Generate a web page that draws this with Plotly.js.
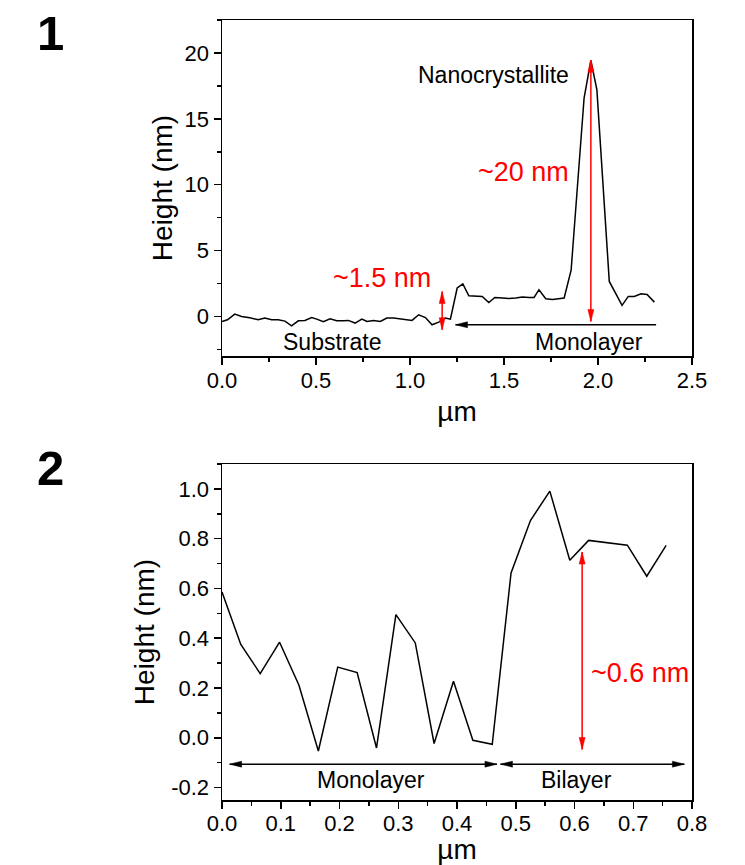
<!DOCTYPE html>
<html>
<head>
<meta charset="utf-8">
<script src="https://cdn.plot.ly/plotly-3.0.1.min.js"></script>
<style>
  html, body { margin: 0; padding: 0; background: #fff; }
  #chart { width: 745px; height: 865px; }
</style>
</head>
<body>
<div id="chart"></div>
<script>
// Panel 1: AFM height profile across substrate, monolayer and a nanocrystallite
const dist1 = [0.000, 0.029, 0.068, 0.104, 0.148, 0.192, 0.228, 0.264, 0.299, 0.335,
               0.370, 0.406, 0.441, 0.477, 0.504, 0.539, 0.575, 0.610, 0.646, 0.672,
               0.708, 0.744, 0.771, 0.806, 0.842, 0.877, 0.913, 0.948, 0.975, 1.011,
               1.046, 1.082, 1.117, 1.153, 1.188, 1.215, 1.251, 1.281, 1.313, 1.349,
               1.384, 1.419, 1.451, 1.491, 1.526, 1.562, 1.598, 1.633, 1.660, 1.686,
               1.722, 1.758, 1.793, 1.820, 1.857, 1.926, 1.962, 1.994, 2.060, 2.128,
               2.161, 2.193, 2.229, 2.261, 2.300];
const height1 = [-0.38, -0.25, 0.18, 0.00, -0.10, -0.25, -0.12, -0.25, -0.25, -0.35,
                 -0.71, -0.33, -0.30, -0.08, -0.20, -0.40, -0.17, -0.33, -0.33, -0.30,
                 -0.50, -0.20, -0.38, -0.30, -0.38, -0.12, -0.12, -0.17, -0.25, -0.30,
                 0.13, -0.08, -0.63, -0.43, -0.12, -0.20, 2.16, 2.48, 1.57, 1.52,
                 1.52, 1.06, 1.44, 1.40, 1.37, 1.40, 1.47, 1.44, 1.44, 2.03,
                 1.34, 1.29, 1.34, 1.40, 3.51, 16.58, 19.44, 17.21, 2.66, 0.84,
                 1.52, 1.52, 1.72, 1.67, 1.09];

// Panel 2: height profile across the monolayer / bilayer step
const dist2 = [0.000, 0.032, 0.065, 0.098, 0.131, 0.164, 0.197, 0.230, 0.263, 0.296,
               0.329, 0.361, 0.394, 0.427, 0.460, 0.492, 0.525, 0.558, 0.592, 0.624,
               0.690, 0.723, 0.756];
const height2 = [0.586, 0.375, 0.258, 0.384, 0.211, -0.053, 0.284, 0.262, -0.041, 0.495,
                 0.381, -0.023, 0.227, -0.010, -0.026, 0.662, 0.873, 0.991, 0.713, 0.793,
                 0.774, 0.649, 0.773];

// Tick values and labels
const xTicks1 = [0, 0.5, 1.0, 1.5, 2.0, 2.5];
const xTickText1 = ['0.0', '0.5', '1.0', '1.5', '2.0', '2.5'];
const yTicks1 = [0, 5, 10, 15, 20];
const yTickText1 = ['0', '5', '10', '15', '20'];
const xTicks2 = [0, 0.1, 0.2, 0.3, 0.4, 0.5, 0.6, 0.7, 0.8];
const xTickText2 = ['0.0', '0.1', '0.2', '0.3', '0.4', '0.5', '0.6', '0.7', '0.8'];
const yTicks2 = [-0.2, 0, 0.2, 0.4, 0.6, 0.8, 1.0];
const yTickText2 = ['-0.2', '0.0', '0.2', '0.4', '0.6', '0.8', '1.0'];

// Annotation anchors (data units)
const peakIdx = height1.indexOf(Math.max(...height1));
const peakX = dist1[peakIdx];
const peakY = height1[peakIdx];
const peakBase = -0.38;
const stepX1 = 1.171, stepLow1 = -1.01, stepHigh1 = 1.90;
const monoArrowY = -0.63, monoArrowFrom = 2.309, monoArrowTo = 1.242;
const stepX2 = 0.613, stepLow2 = -0.047, stepHigh2 = 0.746;
const spanY2 = -0.106;
const monoSpan2 = [0.013, 0.468];
const biSpan2 = [0.474, 0.787];

const FONT = 'Liberation Sans, Arial, Helvetica, sans-serif';
const RED = '#ff0000';
const INK = '#000000';

const xDom = [222 / 745, 692 / 745];
const yDom1 = [1 - 356 / 865, 1 - 20 / 865];
const yDom2 = [1 - 800 / 865, 1 - 464 / 865];

function mainAxis(opts) {
  return Object.assign({
    showline: true, linecolor: INK, linewidth: 1.5, mirror: true,
    showgrid: false, zeroline: false,
    ticks: 'outside', ticklen: 7, tickwidth: 1.5, tickcolor: INK,
    tickmode: 'array',
    tickfont: { family: FONT, size: 22, color: INK },
  }, opts);
}
function mirrorAxis(opts) {
  return Object.assign({
    showline: false, showgrid: false, zeroline: false, showticklabels: false,
    ticks: 'outside', ticklen: 3, tickwidth: 1.2, tickcolor: INK,
    tickmode: 'linear', tick0: 0,
  }, opts);
}
function minor(dt) {
  return { tickmode: 'linear', tick0: 0, dtick: dt, ticks: 'outside', ticklen: 4,
           tickwidth: 1.5, tickcolor: INK, showgrid: false };
}

const traces = [
  { x: dist1, y: height1, xaxis: 'x', yaxis: 'y', mode: 'lines',
    line: { color: INK, width: 1.5 }, hoverinfo: 'skip' },
  { x: dist2, y: height2, xaxis: 'x2', yaxis: 'y2', mode: 'lines',
    line: { color: INK, width: 1.5 }, hoverinfo: 'skip' },
];

// Slender arrowheads: pixel-sized paths anchored at the arrow tip
const HEAD_LEN = 12, HEAD_HALF = 3;
const headPaths = {
  up:    `M0,0 L${-HEAD_HALF},${-HEAD_LEN} L${HEAD_HALF},${-HEAD_LEN} Z`,
  down:  `M0,0 L${-HEAD_HALF},${HEAD_LEN} L${HEAD_HALF},${HEAD_LEN} Z`,
  left:  `M0,0 L${HEAD_LEN},${-HEAD_HALF} L${HEAD_LEN},${HEAD_HALF} Z`,
  right: `M0,0 L${-HEAD_LEN},${-HEAD_HALF} L${-HEAD_LEN},${HEAD_HALF} Z`,
};
function head(xr, yr, x, y, dir, color) {
  return { type: 'path', xref: xr, yref: yr, xsizemode: 'pixel', ysizemode: 'pixel',
           xanchor: x, yanchor: y, path: headPaths[dir],
           fillcolor: color, line: { color: color, width: 0.5 }, layer: 'above' };
}
function shaft(xr, yr, x0, y0, x1, y1, color) {
  return { type: 'line', xref: xr, yref: yr, x0: x0, y0: y0, x1: x1, y1: y1,
           line: { color: color, width: 1.5 }, layer: 'above' };
}
function vArrow(xr, yr, x, yLow, yHigh, color) {
  return [shaft(xr, yr, x, yLow, x, yHigh, color),
          head(xr, yr, x, yHigh, 'up', color), head(xr, yr, x, yLow, 'down', color)];
}
function hArrow(xr, yr, y, xFrom, xTo, color, both) {
  const shapes = [shaft(xr, yr, xFrom, y, xTo, y, color),
                  head(xr, yr, xTo, y, xTo < xFrom ? 'left' : 'right', color)];
  if (both) shapes.push(head(xr, yr, xFrom, y, xTo < xFrom ? 'right' : 'left', color));
  return shapes;
}

const shapes = [].concat(
  vArrow('x', 'y', peakX, peakBase, peakY, RED),
  vArrow('x', 'y', stepX1, stepLow1, stepHigh1, RED),
  hArrow('x', 'y', monoArrowY, monoArrowFrom, monoArrowTo, INK, false),
  vArrow('x2', 'y2', stepX2, stepLow2, stepHigh2, RED),
  hArrow('x2', 'y2', spanY2, monoSpan2[0], monoSpan2[1], INK, true),
  hArrow('x2', 'y2', spanY2, biSpan2[0], biSpan2[1], INK, true)
);

function label(text, x, y, xr, yr, color, size, xanchor) {
  return { text: text, x: x, y: y, xref: xr, yref: yr, showarrow: false,
           xanchor: xanchor || 'center', yanchor: 'middle',
           font: { family: FONT, size: size, color: color } };
}

const annotations = [
  // panel numbers
  { text: '<b>1</b>', x: 50 / 745, y: 1 - 33 / 865, xref: 'paper', yref: 'paper',
    showarrow: false, xanchor: 'center', yanchor: 'middle',
    font: { family: FONT, size: 49, color: INK } },
  { text: '<b>2</b>', x: 50 / 745, y: 1 - 468 / 865, xref: 'paper', yref: 'paper',
    showarrow: false, xanchor: 'center', yanchor: 'middle',
    font: { family: FONT, size: 49, color: INK } },
  // panel 1
  label('Nanocrystallite', 1.445, 18.3, 'x', 'y', INK, 23),
  label('~20 nm', 1.605, 11.0, 'x', 'y', RED, 27),
  label('~1.5 nm', 0.851, 2.94, 'x', 'y', RED, 27),
  label('Substrate', 0.585, -1.90, 'x', 'y', INK, 23),
  label('Monolayer', 1.953, -1.90, 'x', 'y', INK, 23),
  // panel 2
  label('~0.6 nm', 0.6243, 0.259, 'x2', 'y2', RED, 27, 'left'),
  label('Monolayer', 0.254, -0.171, 'x2', 'y2', INK, 23),
  label('Bilayer', 0.604, -0.171, 'x2', 'y2', INK, 23),
];

const titleFont = { family: FONT, size: 28, color: INK };

const layout = {
  width: 745, height: 865,
  margin: { l: 0, r: 0, t: 0, b: 0 },
  paper_bgcolor: '#ffffff', plot_bgcolor: '#ffffff',
  showlegend: false,
  font: { family: FONT, color: INK },
  xaxis: mainAxis({ domain: xDom, anchor: 'y', range: [0, 2.5],
    tickvals: xTicks1, ticktext: xTickText1, minor: minor(0.25), ticklabelstandoff: -3,
    title: { text: 'µm', font: titleFont, standoff: 9 } }),
  yaxis: mainAxis({ domain: yDom1, anchor: 'x', range: [-3, 22.5],
    tickvals: yTicks1, ticktext: yTickText1, minor: minor(2.5),
    title: { text: 'Height (nm)', font: titleFont, standoff: 4 } }),
  xaxis3: mirrorAxis({ overlaying: 'x', anchor: 'y', side: 'top', range: [0, 2.5], dtick: 0.25 }),
  yaxis3: mirrorAxis({ overlaying: 'y', anchor: 'x', side: 'right', range: [-3, 22.5], dtick: 2.5 }),
  xaxis2: mainAxis({ domain: xDom, anchor: 'y2', range: [0, 0.8],
    tickvals: xTicks2, ticktext: xTickText2, minor: minor(0.05), ticklabelstandoff: -4,
    title: { text: 'µm', font: titleFont, standoff: 14 } }),
  yaxis2: mainAxis({ domain: yDom2, anchor: 'x2', range: [-0.25, 1.1],
    tickvals: yTicks2, ticktext: yTickText2, minor: minor(0.1),
    title: { text: 'Height (nm)', font: titleFont, standoff: 8 } }),
  xaxis4: mirrorAxis({ overlaying: 'x2', anchor: 'y2', side: 'top', range: [0, 0.8], dtick: 0.05 }),
  yaxis4: mirrorAxis({ overlaying: 'y2', anchor: 'x2', side: 'right', range: [-0.25, 1.1], dtick: 0.1 }),
  annotations: annotations,
  shapes: shapes,
};

Plotly.newPlot('chart', traces, layout, { displayModeBar: false, staticPlot: true });
</script>
</body>
</html>
